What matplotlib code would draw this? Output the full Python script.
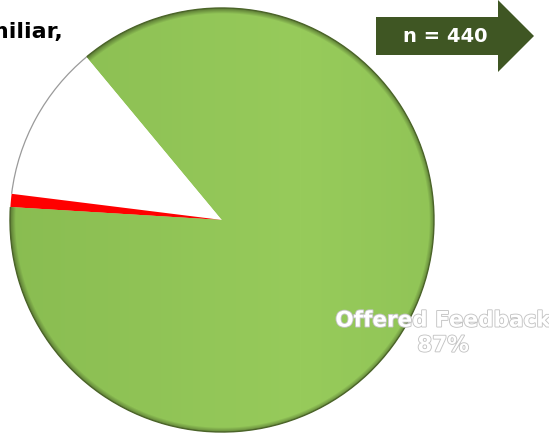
import numpy as np
import matplotlib.pyplot as plt
from matplotlib.patches import Polygon, Arc
import matplotlib.patheffects as pe

# data
labels = ['Offered Feedback', 'Unfamiliar,', 'Other']
shares = [87, 12, 1]
colors = ['#8fc456', '#ffffff', '#ff0000']
n_total = 440

W, H = 549, 434
cx, cy, R = 222, 434 - 220, 212

fig = plt.figure(figsize=(W / 100, H / 100), dpi=100)
ax = fig.add_axes([0, 0, 1, 1])

wedges, _ = ax.pie(shares, colors=colors, startangle=176.5, counterclock=True,
                   center=(cx, cy), radius=R,
                   wedgeprops=dict(linewidth=0, antialiased=True))

# soft shading on the green slice
g = wedges[0]
yy, xx = np.mgrid[0:H, 0:W]
r = np.hypot(xx - cx, (H - yy) - cy) / R
light = np.array([0x97, 0xcb, 0x5b]) / 255
mid = np.array([0x89, 0xbc, 0x51]) / 255
dark = np.array([0x5e, 0x7e, 0x36]) / 255
t = np.clip(np.abs(xx - 300) / 300, 0, 1)[..., None]
img = light * (1 - t) + mid * t
rim = np.clip((r - 0.975) / 0.025, 0, 1)[..., None]
img = img * (1 - rim) + dark * rim
im = ax.imshow(img, extent=(0, W, 0, H), origin='upper', zorder=1.5)
im.set_clip_path(g)

ax.add_patch(Arc((cx, cy), 2 * R, 2 * R, theta1=g.theta1, theta2=g.theta2,
                 color='#4b6429', lw=1.0, zorder=3))
w = wedges[1]
ax.add_patch(Arc((cx, cy), 2 * R, 2 * R, theta1=w.theta1, theta2=w.theta2,
                 color='#9a9a9a', lw=0.9, zorder=3))

# label on the green slice
ax.text(443, H - 333, f'{labels[0]}\n{shares[0]}%', ha='center', va='center',
        fontsize=15.5, fontweight='bold', color='white', linespacing=1.3,
        zorder=4, path_effects=[pe.Stroke(linewidth=1.3, foreground='#c4c4c4'),
                                pe.Normal()])

# cut-off label top left
ax.text(63, H - 38, labels[1], ha='right', va='baseline', fontsize=16,
        fontweight='bold', color='black', zorder=4)

# n arrow
arrow = [(376, 17), (498, 17), (498, 0), (534, 36), (498, 72), (498, 55), (376, 55)]
ax.add_patch(Polygon([(x, H - y) for x, y in arrow], closed=True,
                     facecolor='#3f5623', edgecolor='none', zorder=4))
ax.text(445, H - 36, f'n = {n_total}', ha='center', va='center', fontsize=14,
        fontweight='bold', color='white', zorder=5)

ax.set_xlim(0, W)
ax.set_ylim(0, H)
ax.set_aspect('equal')
ax.axis('off')

fig.savefig('out.png', dpi=100)
